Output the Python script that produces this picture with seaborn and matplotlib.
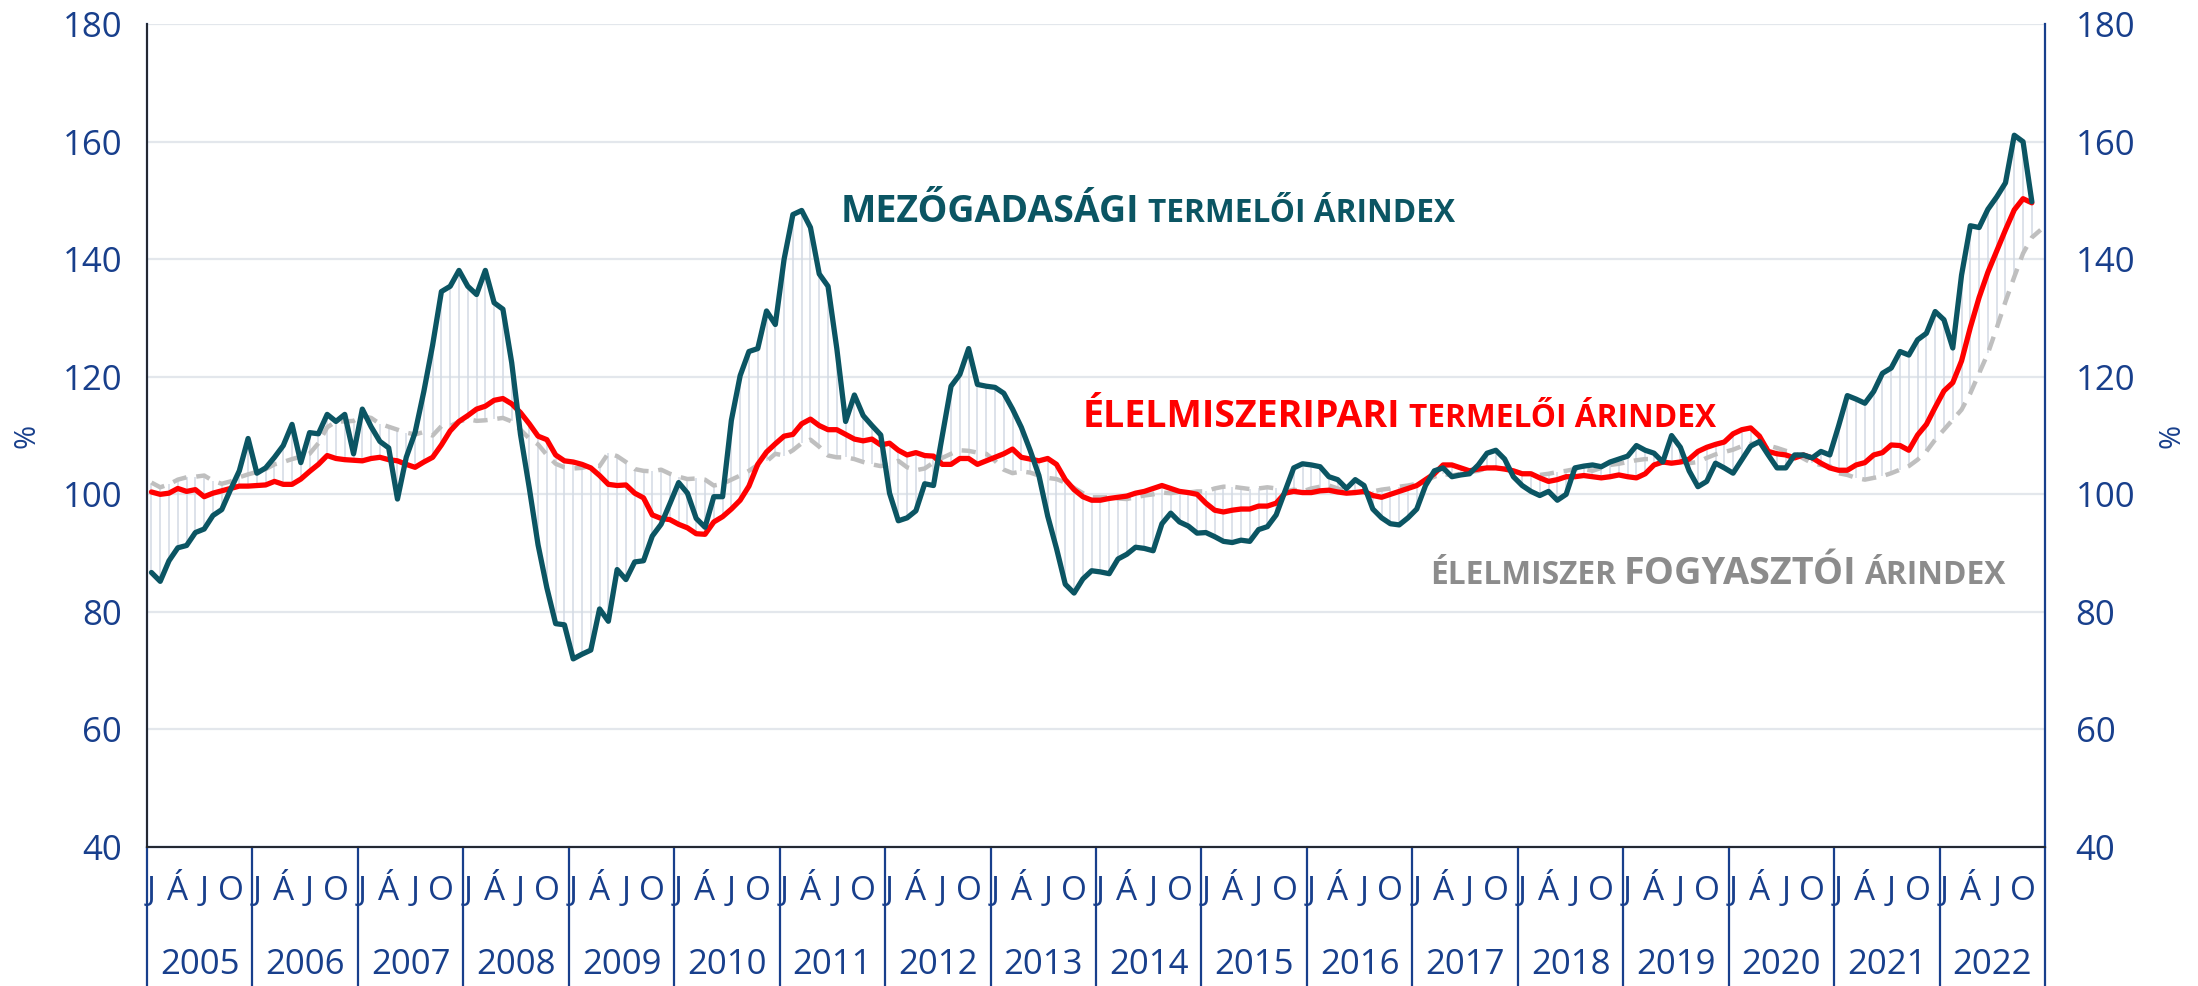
import numpy as np
import pandas as pd
import matplotlib.pyplot as plt
import matplotlib.transforms as mtransforms
import seaborn as sns

sns.set_theme(style="white")
plt.rcParams["font.family"] = ["Open Sans", "DejaVu Sans"]

years = list(range(2005, 2023))
month_labels = ["J", "Á", "J", "O"]

# mezőgazdasági termelői árindex (havi, 2005 jan - 2022 nov)
agri = [86.7, 85.2, 88.7, 90.9, 91.3, 93.5, 94.1, 96.4, 97.4, 100.8, 104.0, 109.5,
        103.6, 104.5, 106.3, 108.3, 111.9, 105.4, 110.5, 110.3, 113.6, 112.4, 113.6, 106.9,
        114.5, 111.5, 109.0, 107.9, 99.2, 106.3, 110.5, 117.5, 125.4, 134.5, 135.4, 138.1,
        135.4, 134.0, 138.1, 132.6, 131.5, 122.4, 110.2, 101.1, 91.4, 84.1, 78.0, 77.8,
        72.0, 72.8, 73.5, 80.5, 78.4, 87.2, 85.5, 88.5, 88.7, 92.9, 94.9, 98.4,
        102.0, 100.2, 95.9, 94.4, 99.6, 99.6, 112.6, 120.2, 124.3, 124.8, 131.2, 128.9,
        140.0, 147.6, 148.3, 145.4, 137.5, 135.4, 124.8, 112.4, 116.9, 113.4, 111.7, 110.1,
        100.2, 95.5, 96.0, 97.2, 101.8, 101.5, 110.0, 118.4, 120.4, 124.8, 118.7, 118.4,
        118.2, 117.2, 114.5, 111.4, 107.5, 103.2, 96.3, 90.8, 84.7, 83.2, 85.6, 87.0,
        86.8, 86.5, 89.0, 89.8, 91.0, 90.8, 90.4, 95.0, 96.8, 95.3, 94.6, 93.4,
        93.5, 92.8, 92.0, 91.8, 92.2, 92.0, 94.0, 94.5, 96.5, 100.5, 104.5, 105.2,
        105.0, 104.7, 103.0, 102.5, 101.0, 102.5, 101.5, 97.5, 96.0, 95.0, 94.8, 96.0,
        97.5, 101.5, 104.0, 104.5, 103.0, 103.3, 103.5, 105.0, 107.0, 107.5, 106.0, 103.0,
        101.5, 100.5, 99.8, 100.5, 99.0, 100.0, 104.5, 104.8, 105.0, 104.7, 105.5, 106.0,
        106.5, 108.3, 107.5, 107.0, 105.5, 110.0, 108.0, 104.0, 101.3, 102.2, 105.3, 104.5,
        103.6, 105.9, 108.2, 109.0, 106.7, 104.5, 104.5, 106.7, 106.7, 106.2, 107.3, 106.7,
        111.6, 116.8, 116.2, 115.5, 117.5, 120.6, 121.5, 124.3, 123.7, 126.3, 127.4, 131.1,
        129.7, 124.9, 137.3, 145.7, 145.4, 148.5, 150.6, 153.0, 161.1, 160.0, 149.8]

# élelmiszeripari termelői árindex
food_ind = [100.4, 100.0, 100.2, 101.0, 100.5, 100.8, 99.6, 100.2, 100.6, 101.0, 101.4, 101.4,
            101.5, 101.6, 102.2, 101.7, 101.7, 102.6, 103.9, 105.1, 106.6, 106.1, 105.9, 105.8,
            105.7, 106.1, 106.3, 105.9, 105.7, 105.1, 104.6, 105.5, 106.3, 108.4, 110.8, 112.4,
            113.4, 114.5, 115.0, 116.0, 116.3, 115.4, 113.9, 112.0, 109.9, 109.3, 106.7, 105.7,
            105.5, 105.1, 104.5, 103.2, 101.7, 101.5, 101.6, 100.2, 99.4, 96.5, 95.9, 95.7,
            94.9, 94.3, 93.3, 93.2, 95.3, 96.2, 97.5, 99.0, 101.4, 105.1, 107.2, 108.6,
            109.9, 110.2, 112.0, 112.8, 111.7, 111.0, 111.0, 110.2, 109.4, 109.1, 109.4, 108.4,
            108.7, 107.5, 106.7, 107.1, 106.6, 106.5, 105.1, 105.1, 106.1, 106.1, 105.1, 105.7,
            106.3, 106.9, 107.7, 106.3, 106.0, 105.7, 106.1, 105.1, 102.5, 100.8, 99.6, 99.0,
            99.0, 99.3, 99.5, 99.7, 100.2, 100.5, 101.0, 101.5, 101.0, 100.5, 100.3, 100.0,
            98.5, 97.3, 97.0, 97.3, 97.5, 97.5, 98.0, 98.0, 98.5, 100.2, 100.5, 100.3,
            100.3, 100.6, 100.7, 100.4, 100.2, 100.3, 100.5, 99.8, 99.5, 100.0, 100.5, 101.0,
            101.5, 102.5, 103.5, 105.0, 105.0, 104.5, 104.0, 104.3, 104.5, 104.5, 104.3, 104.0,
            103.5, 103.5, 102.8, 102.2, 102.5, 103.0, 103.0, 103.2, 103.0, 102.8, 103.0, 103.3,
            103.0, 102.8, 103.5, 105.0, 105.5, 105.3, 105.5, 106.0, 107.3, 108.0, 108.5, 108.9,
            110.3, 111.0, 111.3, 109.9, 107.3, 106.9, 106.7, 106.2, 106.7, 106.2, 105.3, 104.5,
            104.1, 104.1, 105.0, 105.4, 106.7, 107.1, 108.4, 108.3, 107.5, 110.1, 111.9, 114.8,
            117.6, 119.0, 122.7, 128.4, 133.5, 137.8, 141.4, 145.0, 148.4, 150.3, 149.6]

# élelmiszer fogyasztói árindex (2022 dec-ig)
food_cpi = [102.0, 101.2, 101.7, 102.5, 102.9, 103.0, 103.2, 102.3, 101.8, 102.2, 102.9, 103.4,
            103.8, 104.3, 105.1, 105.5, 106.0, 106.4, 106.9, 108.7, 111.4, 112.4, 112.4, 112.5,
            113.3, 113.0, 112.0, 111.5, 111.0, 110.5, 110.2, 110.6, 110.0, 111.6, 111.6, 112.4,
            112.8, 112.5, 112.6, 112.8, 113.0, 112.4, 111.0, 109.5, 108.5, 106.7, 105.2, 104.6,
            104.4, 104.5, 104.9, 104.8, 107.0, 106.5, 105.5, 104.3, 104.0, 103.9, 104.2, 103.5,
            103.0, 102.6, 102.7, 102.5, 101.5, 101.8, 102.5, 103.2, 104.0, 105.0, 105.6, 106.9,
            106.6, 107.5, 108.7, 109.3, 108.1, 106.6, 106.3, 106.3, 106.0, 105.5, 105.1, 104.8,
            105.1, 105.7, 104.6, 104.1, 104.4, 105.4, 106.2, 106.9, 107.5, 107.4, 107.1, 106.9,
            105.7, 104.2, 103.6, 103.9, 103.7, 103.2, 102.8, 102.6, 102.0, 101.1, 100.2, 99.5,
            99.5, 99.5, 99.3, 99.2, 99.5, 99.8, 100.0, 100.3, 100.2, 100.4, 100.3, 100.5,
            100.5, 101.0, 101.3, 101.3, 101.1, 100.9, 101.0, 101.2, 101.0, 100.5, 100.8, 100.5,
            101.0, 101.3, 101.5, 101.0, 100.5, 100.4, 100.3, 100.5, 100.8, 101.0, 101.3, 101.5,
            101.8, 102.3, 103.0, 103.5, 103.2, 103.5, 103.8, 104.0, 104.5, 104.5, 104.3, 104.0,
            103.5, 103.5, 103.3, 103.5, 103.8, 104.0, 104.3, 104.3, 104.0, 104.5, 105.0, 105.2,
            105.5, 105.8, 106.0, 106.0, 105.5, 105.3, 105.5, 105.3, 105.5, 106.2, 106.8, 107.2,
            107.6, 108.2, 108.6, 108.7, 108.3, 107.9, 107.4, 107.0, 106.1, 105.3, 105.0, 104.8,
            103.6, 103.3, 102.8, 102.5, 102.8, 103.1, 103.6, 104.2, 104.8, 105.9, 107.3, 109.3,
            111.0, 112.7, 114.4, 117.2, 120.6, 124.0, 128.3, 132.8, 137.0, 141.0, 143.7, 145.0]

NAVY = "#183f8c"
TEAL = "#0b5563"
RED = "#ff0000"
GRAY = "#bfbfbf"

n = len(food_cpi)
df = pd.DataFrame({"honap": np.arange(n)})
df["agri"] = pd.Series(agri, dtype=float)
df["food_ind"] = pd.Series(food_ind, dtype=float)
df["food_cpi"] = pd.Series(food_cpi, dtype=float)

fig = plt.figure(figsize=(21.98, 9.86), dpi=100)
ax = fig.add_axes([0.0669, 0.141, 0.8635, 0.8345])

# high-low vonalak
hl = df[["agri", "food_ind", "food_cpi"]].dropna()
ax.vlines(hl.index, hl.min(axis=1), hl.max(axis=1), color="#d3dae4", lw=1.1, zorder=1)

sns.lineplot(data=df, x="honap", y="food_cpi", ax=ax, color=GRAY, lw=3.2,
             linestyle=(0, (3.2, 2.2)), zorder=2)
sns.lineplot(data=df, x="honap", y="food_ind", ax=ax, color=RED, lw=3.8, zorder=3)
sns.lineplot(data=df, x="honap", y="agri", ax=ax, color=TEAL, lw=3.8, zorder=4)

ax.set_xlim(-0.5, n - 0.5)
ax.set_ylim(40, 180)
ax.set_yticks(range(40, 181, 20))
ax.grid(axis="y", color="#e3e7ec", lw=1.6)
ax.set_axisbelow(True)
ax.set_xlabel("")
ax.set_ylabel("%", color=NAVY, fontsize=21, labelpad=15)

for s in ["left", "right", "bottom"]:
    ax.spines[s].set_color(NAVY)
    ax.spines[s].set_linewidth(1.6)
ax.spines["top"].set_visible(False)

ax.tick_params(axis="y", length=0, labelsize=25, labelcolor=NAVY, pad=18)
ax2 = ax.twinx()
ax2.set_ylim(ax.get_ylim())
ax2.set_yticks(range(40, 181, 20))
ax2.tick_params(axis="y", length=0, labelsize=25, labelcolor=NAVY, pad=22)
ax2.set_ylabel("%", color=NAVY, fontsize=21, labelpad=16)
ax2.spines["top"].set_visible(False)
ax2.spines["right"].set_visible(False)
ax2.grid(False)

# hónap címkék
ticks, labels = [], []
for k in range(len(years)):
    for j, lab in enumerate(month_labels):
        ticks.append(12 * k + 3 * j)
        labels.append(lab)
ax.set_xticks(ticks)
ax.set_xticklabels(labels)
ax.tick_params(axis="x", length=0, labelsize=24, labelcolor=NAVY, pad=20)

# évek és elválasztók
trans = mtransforms.blended_transform_factory(ax.transData, ax.transAxes)
for k, y in enumerate(years):
    ax.text(12 * k + 5.5, -0.143, str(y), transform=trans, ha="center", va="center",
            fontsize=25, color=NAVY)
for k in range(len(years) + 1):
    ax.plot([12 * k - 0.5] * 2, [0, -0.17], transform=trans, color=NAVY, lw=1.6,
            clip_on=False)


def mixed(x, y, parts, color):
    fig.canvas.draw()
    r = fig.canvas.get_renderer()
    cur = x
    for txt, size in parts:
        t = fig.text(cur / 2198, 1 - y / 986, txt, fontsize=size, fontweight="bold",
                     color=color, va="baseline", ha="left")
        bb = t.get_window_extent(renderer=r)
        cur = bb.x1 + 8


mixed(841, 222, [("MEZŐGADASÁGI", 27), ("TERMELŐI ÁRINDEX", 22.8)], TEAL)
mixed(1083, 427, [("ÉLELMISZERIPARI", 27), ("TERMELŐI ÁRINDEX", 22.8)], RED)
mixed(1430, 584, [("ÉLELMISZER", 22.8), ("FOGYASZTÓI", 27.3), ("ÁRINDEX", 22.8)], "#8c8c8c")

fig.savefig("out.png", dpi=100)
